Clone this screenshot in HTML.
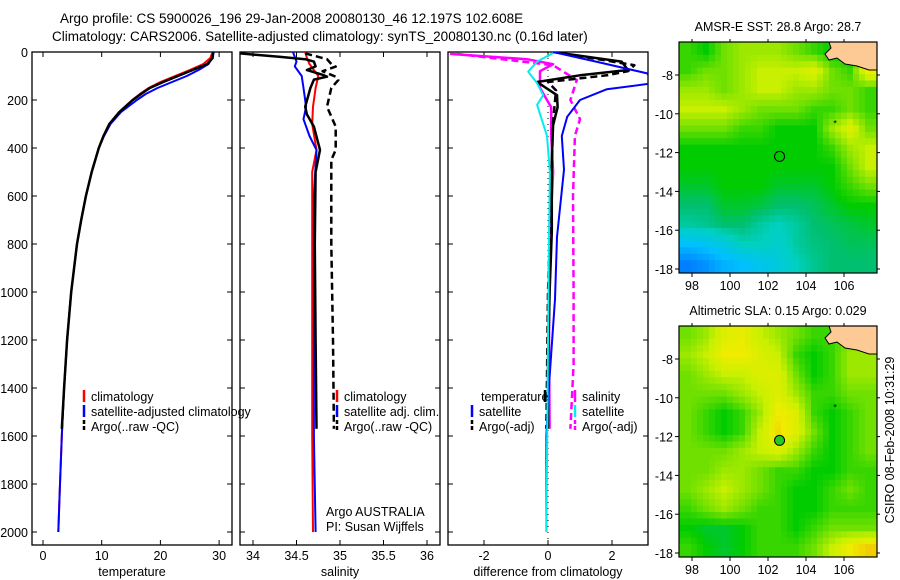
<!DOCTYPE html>
<html><head><meta charset="utf-8"><style>
body{margin:0;background:#fff;}
svg{display:block;font-family:"Liberation Sans",sans-serif;}
</style></head><body>
<svg id="fig" width="900" height="580" viewBox="0 0 900 580" xmlns="http://www.w3.org/2000/svg">
<text x="60" y="23" font-size="13.5">Argo profile: CS 5900026_196 29-Jan-2008 20080130_46 12.197S 102.608E</text>
<text x="52" y="41" font-size="13.5">Climatology: CARS2006. Satellite-adjusted climatology: synTS_20080130.nc (0.16d later)</text>
<defs>
<clipPath id="c1"><rect x="32" y="52" width="200" height="493"/></clipPath>
<clipPath id="c2"><rect x="240" y="52" width="200" height="493"/></clipPath>
<clipPath id="c3"><rect x="448" y="52" width="200" height="493"/></clipPath>
</defs>
<g id="g"></g>
<text transform="translate(894,440) rotate(-90)" text-anchor="middle" font-size="12.5">CSIRO 08-Feb-2008 10:31:29</text>
</svg>
<script>
// ---------- data ----------
const tempDepth=[0,25,50,75,100,125,150,175,200,250,300,350,400,500,600,700,800,1000,1200,1400,1600,1800,2000];
const tempClim=[28.9,28.5,27.3,25,22.5,20,18,16.5,15.2,13,11.3,10.3,9.5,8.3,7.3,6.5,5.8,4.8,4.1,3.6,3.2,2.9,2.6];
const tempSat=[29.1,28.8,28.2,26.5,24.5,22,19.5,17.5,16,13.3,11.5,10.4,9.5,8.3,7.3,6.5,5.8,4.8,4.1,3.6,3.2,2.9,2.6];
const tempArgoDepth=[0,25,50,75,100,125,150,175,200,250,300,350,400,500,600,700,800,1000,1200,1400,1570];
const tempArgo=[29,28.9,28,25.5,23,20.5,18.2,16.7,15.3,13,11.3,10.3,9.5,8.3,7.3,6.5,5.8,4.8,4.1,3.6,3.2];
const salClimDepth=[0,25,50,100,150,228,300,408,500,800,1200,1600,2000];
const salClim=[34.6,34.62,34.65,34.75,34.72,34.69,34.68,34.73,34.68,34.68,34.68,34.68,34.69];
const salSatDepth=[0,40,60,100,150,228,280,350,408,600,1000,1600,2000];
const salSat=[34.46,34.5,34.48,34.56,34.58,34.61,34.58,34.65,34.73,34.7,34.7,34.7,34.72];
const salArgoDepth=[6,20,30,40,60,75,95,103,115,150,228,260,311,408,500,800,1200,1570];
const salArgo=[33.85,34.3,34.6,34.7,34.72,34.62,34.8,34.85,34.7,34.66,34.6,34.62,34.7,34.77,34.72,34.71,34.72,34.73];
const salAdjDepth=[6,30,50,61,80,103,117,150,228,311,408,450,800,1200,1570];
const salAdj=[34.6,34.85,34.9,34.95,34.8,34.95,34.98,34.9,34.85,34.95,34.95,34.9,34.9,34.92,34.93];
const dTSatDepth=[0,40,89,130,155,200,270,350,490,770,1030,1450,1600,2000];
const dTSat=[0.16,1.5,3.1,3.3,1.84,1.0,0.6,0.43,0.5,0.28,0.22,0,-0.05,-0.05];
const dTArgoDepth=[0,40,75,97,125,180,230,305,450,750,1000,1300,1570];
const dTArgo=[0.16,2.3,2.5,1.0,-0.34,0.28,0.3,0.16,0.12,0.12,0.05,0,0];
const dTAdjDepth=[0,55,80,97,125,160,230,305,600,1000,1570];
const dTAdj=[0.2,2.7,2.5,1.84,0,0.25,0.2,0.15,0.1,0,-0.05];
const dSSatDepth=[4,40,82,130,180,220,350,500,770,1200,2000];
const dSSat=[0.16,-0.34,-0.62,-0.34,-0.15,-0.34,-0.03,0.06,0.03,0,-0.05];
const dSArgoDepth=[8,30,51,80,150,230,350,500,800,1200,1570];
const dSArgo=[-3.06,-0.66,0.16,-0.25,-0.25,0.1,0.1,0.16,0.05,0.03,0.05];
const dSAdjDepth=[8,55,117,200,280,350,600,1000,1300,1570];
const dSAdj=[-2.85,0.16,0.9,0.7,1.0,0.84,0.78,0.8,0.8,0.7];
const depthTicks=[0,200,400,600,800,1000,1200,1400,1600,1800,2000];
const tempTicks=[0,10,20,30];
const salTicks=[34,34.5,35,35.5,36];
const salTickLabels=["34","34.5","35","35.5","36"];
const diffTicks=[-2,0,2];
const lonTicks=[98,100,102,104,106];
const latTicks=[-8,-10,-12,-14,-16,-18];
const floatLon=102.608, floatLat=-12.197;
const sstGrid=[
[5.5,5,6,6.5,6.5,6.5,6,5.5,5,5,5],
[5.5,6,6,6.5,7,7,7,7.5,6,5.5,8],
[6.5,6.5,6,6.5,7,7,6.5,6.5,6,6,5.5],
[7,7,7,6.5,6,6,6,5.5,5.5,6,5.5],
[6,6,6,5.5,5.5,5,5,5,6.5,7.5,6],
[5,5,5,5,5,5,5,5,5.5,6.5,7],
[5,5,5,5,5,5,5,5,5,6,7],
[4.8,4.8,5,5,5,4.8,4.8,4.8,5,5.5,6],
[4.5,4.5,4.8,4.8,4.7,4.5,4.5,4.6,4.8,5,5],
[4.2,4.3,4.5,4.5,4.2,4,4.2,4.5,4.6,4.7,4.8],
[3,3.2,3.5,4,4,3.8,4.2,4.4,4.5,4.6,4.6],
[2,2.3,2.8,3,3.3,3.6,4,4.3,4.5,4.5,4.5]];
const slaGrid=[
[6,6.5,7.5,7.8,7,6.5,6,5.5,5.5,6,6],
[6.5,7,8,8,7.5,7,5.5,5,5.5,6.5,6.5],
[6,6.5,7,7,7.5,7.5,6,5,5.5,6.5,6.5],
[6,6,6,6.5,7,7.5,6.5,5.5,5.5,6,6],
[6,5.5,5,5.5,6.5,8,7.5,5.5,5,5.5,6],
[6,5.5,5,5.5,7,8.3,7.5,6,5,5.5,6],
[6,6,6,6.5,7,7.5,6.5,5.5,5,5.5,6],
[6,6,6.5,6.5,6,5.5,5.5,5,5,5.5,5.5],
[6,6.5,7,6.5,6,5.5,5,5,5.5,6,5.5],
[5.5,6,6.5,6,5.5,5.5,5,5,5.5,5.5,5.5],
[5,4.8,4.8,5,5.5,5.5,5,5.5,6,6,6],
[5.5,5,4.8,5,5.5,5.5,5.5,6,7,8,8.5]];

// ---------- helpers ----------
const NS="http://www.w3.org/2000/svg";
const G=document.getElementById('g');
function mk(tag,attrs,parent){const e=document.createElementNS(NS,tag);for(const k in attrs)e.setAttribute(k,attrs[k]);(parent||G).appendChild(e);return e;}
const yD=d=>52+0.24*d;
const xT=v=>43+5.87*v;
const xS=v=>253+87*(v-34);
const xDf=v=>548+32*v;

function panel(x0,name,xs,ticks,labels,xlabel,showY){
  const b=mk('rect',{x:x0,y:52,width:200,height:493,fill:'none',stroke:'#000','stroke-width':1.3});
  
  
  depthTicks.forEach(d=>{
    const y=yD(d);
    mk('line',{x1:x0,x2:x0+5,y1:y,y2:y,stroke:'#000'});
    mk('line',{x1:x0+195,x2:x0+200,y1:y,y2:y,stroke:'#000'});
    if(showY){const t=mk('text',{x:28,y:y+5,'text-anchor':'end','font-size':12.5});t.textContent=d;
      
      }
  });
  ticks.forEach((v,i)=>{
    const x=xs(v);
    mk('line',{x1:x,x2:x,y1:545,y2:540,stroke:'#000'});
    mk('line',{x1:x,x2:x,y1:52,y2:57,stroke:'#000'});
    const t=mk('text',{x:x,y:560,'text-anchor':'middle','font-size':12.5});t.textContent=labels[i];
    
    
  });
  const xl=mk('text',{x:x0+100,y:576,'text-anchor':'middle','font-size':12.5});xl.textContent=xlabel;
  
  
}
function line(depths,vals,xs,color,w,dash,clip,name){
  const pts=depths.map((d,i)=>xs(vals[i]).toFixed(1)+','+yD(d).toFixed(1)).join(' ');
  const a={points:pts,fill:'none',stroke:color,'stroke-width':w,'clip-path':'url(#'+clip+')','stroke-linejoin':'round'};
  if(dash)a['stroke-dasharray']=dash;
  const p=mk('polyline',a);
  
  
}
function legend(x,y,color,dash,label,name){
  const a={x1:x,x2:x,y1:y-11,y2:y+1,stroke:color,'stroke-width':2.5};
  if(dash)a['stroke-dasharray']=dash;
  mk('line',a);
  if(label){const t=mk('text',{x:x+7,y:y,'font-size':12.5});t.textContent=label;
    
    }
}

// panel 1 temperature
panel(32,'temperature',xT,tempTicks,tempTicks.map(String),'temperature',true);
line(tempDepth,tempClim,xT,'#f00',2,null,'c1','temp-climatology-line');
line(tempDepth,tempSat,xT,'#00f',2,null,'c1','temp-satellite-line');
line(tempArgoDepth,tempArgo,xT,'#000',2.5,null,'c1','temp-argo-line');
legend(84,401,'#f00',null,'climatology','legend-climatology');
legend(84,416,'#00f',null,'satellite-adjusted climatology','legend-satellite');
legend(84,431,'#000','4,2','Argo(..raw -QC)','legend-argo');

// panel 2 salinity
panel(240,'salinity',xS,salTicks,salTickLabels,'salinity',false);
line(salClimDepth,salClim,xS,'#f00',2,null,'c2','sal-climatology-line');
line(salSatDepth,salSat,xS,'#00f',2,null,'c2','sal-satellite-line');
line(salArgoDepth,salArgo,xS,'#000',2.5,null,'c2','sal-argo-line');
line(salAdjDepth,salAdj,xS,'#000',2.5,'7,4','c2','sal-argo-adj-line');
legend(337,401,'#f00',null,'climatology','legend-sal-clim');
legend(337,416,'#00f',null,'satellite adj. clim.','legend-sal-sat');
legend(337,431,'#000','4,2','Argo(..raw -QC)','legend-sal-argo');
[['Argo AUSTRALIA',516],['PI: Susan Wijffels',531]].forEach(([s,y])=>{const t=mk('text',{x:326,y:y,'font-size':12.5});t.textContent=s;
  
  });

// panel 3 difference
panel(448,'difference',xDf,diffTicks,diffTicks.map(String),'difference from climatology',false);
mk('line',{x1:xDf(0),x2:xDf(0),y1:52,y2:545,stroke:'#000','stroke-dasharray':'1,5'});
line(dSAdjDepth,dSAdj,xDf,'#f0f',2.5,'7,4','c3','diff-sal-argo-adj-line');
line(dSArgoDepth,dSArgo,xDf,'#f0f',2.5,null,'c3','diff-sal-argo-line');
line(dTAdjDepth,dTAdj,xDf,'#000',2.5,'7,4','c3','diff-temp-argo-adj-line');
line(dTArgoDepth,dTArgo,xDf,'#000',2.5,null,'c3','diff-temp-argo-line');
line(dTSatDepth,dTSat,xDf,'#00f',2,null,'c3','diff-temp-satellite-line');
line(dSSatDepth,dSSat,xDf,'#0ee',2,null,'c3','diff-sal-satellite-line');
legend(545,401,'#000',null,'','');
{const t=mk('text',{x:481,y:401,'font-size':12.5});t.textContent='temperature';
 
 }
legend(472,416,'#00f',null,'satellite','legend-diff-temp-sat');
legend(472,431,'#000','4,2','Argo(-adj)','legend-diff-temp-argo');
legend(575,401,'#f0f',null,'salinity','legend-diff-sal-heading');
legend(575,416,'#0ee',null,'satellite','legend-diff-sal-sat');
legend(575,431,'#f0f','4,2','Argo(-adj)','legend-diff-sal-argo');

// ---------- maps ----------
const stops=[[0,[0,48,192]],[2,[0,128,255]],[3,[0,192,255]],[4,[0,208,192]],[4.5,[0,192,112]],[5,[0,204,0]],[6,[112,224,0]],[7,[200,240,0]],[8,[240,236,0]],[9,[240,176,0]],[10,[224,64,0]]];
function col(v){for(let i=1;i<stops.length;i++){if(v<=stops[i][0]){const [a,ca]=stops[i-1],[b,cb]=stops[i];const f=(v-a)/(b-a);return 'rgb('+ca.map((c,j)=>Math.round(c+(cb[j]-c)*f)).join(',')+')';}}return 'rgb(224,64,0)';}
function sample(grid,fi,fj){
  const R=grid.length-1,C=grid[0].length-1;
  fi=Math.max(0,Math.min(R,fi));fj=Math.max(0,Math.min(C,fj));
  const i0=Math.floor(fi),j0=Math.floor(fj),i1=Math.min(R,i0+1),j1=Math.min(C,j0+1),a=fi-i0,b=fj-j0;
  return grid[i0][j0]*(1-a)*(1-b)+grid[i0][j1]*(1-a)*b+grid[i1][j0]*a*(1-b)+grid[i1][j1]*a*b;
}
function map(y0,latY8,grid,title,name,filled){
  const x0=679,w=198,h=231,S=3;
  const lonX=l=>692+19*(l-98);
  const latY=l=>latY8+19.4*(-8-l);
  const rows=grid.length*S,cols=grid[0].length*S,cw=w/cols,ch=h/rows;
  for(let i=0;i<rows;i++)for(let j=0;j<cols;j++){
    const v=sample(grid,(i+0.5)/S-0.5,(j+0.5)/S-0.5);
    const c=mk('rect',{x:(x0+j*cw).toFixed(2),y:(y0+i*ch).toFixed(2),width:(cw+0.5).toFixed(2),height:(ch+0.5).toFixed(2),fill:col(v)});
    
    
  }
  const land=mk('polygon',{points:`${x0+w},${y0} ${x0+150},${y0} ${x0+152},${y0+6} ${x0+146},${y0+12} ${x0+150},${y0+18} ${x0+158},${y0+16} ${x0+166},${y0+22} ${x0+178},${y0+24} ${x0+190},${y0+28} ${x0+w},${y0+28}`,fill:'#fdc994',stroke:'#000','stroke-width':1});
  
  
  mk('rect',{x:x0,y:y0,width:w,height:h,fill:'none',stroke:'#000','stroke-width':1.2});
  lonTicks.forEach(l=>{const x=lonX(l);mk('line',{x1:x,x2:x,y1:y0+h,y2:y0+h+4,stroke:'#000'});mk('line',{x1:x,x2:x,y1:y0,y2:y0-3,stroke:'#000'});
    const t=mk('text',{x:x,y:y0+h+17,'text-anchor':'middle','font-size':12.5});t.textContent=l;
    
    });
  latTicks.forEach(l=>{const y=latY(l);mk('line',{x1:x0-4,x2:x0,y1:y,y2:y,stroke:'#000'});mk('line',{x1:x0+w,x2:x0+w+3,y1:y,y2:y,stroke:'#000'});
    const t=mk('text',{x:x0-6,y:y+5,'text-anchor':'end','font-size':12.5});t.textContent=l;
    
    });
  const tt=mk('text',{x:x0+w/2,y:y0-11,'text-anchor':'middle','font-size':12.5});tt.textContent=title;
  
  
  const m=mk('circle',{cx:lonX(floatLon),cy:latY(floatLat),r:5,fill:filled?'#22cc22':'none',stroke:'#000','stroke-width':1});
  
  
  mk('text',{x:lonX(105.6)-3,y:latY(-10.45)+4,'font-size':9}).textContent='*';
}
map(42,75,sstGrid,'AMSR-E SST: 28.8 Argo: 28.7','sst-map',false);
map(326,359,slaGrid,'Altimetric SLA: 0.15 Argo: 0.029','sla-map',true);
</script>
</body></html>
